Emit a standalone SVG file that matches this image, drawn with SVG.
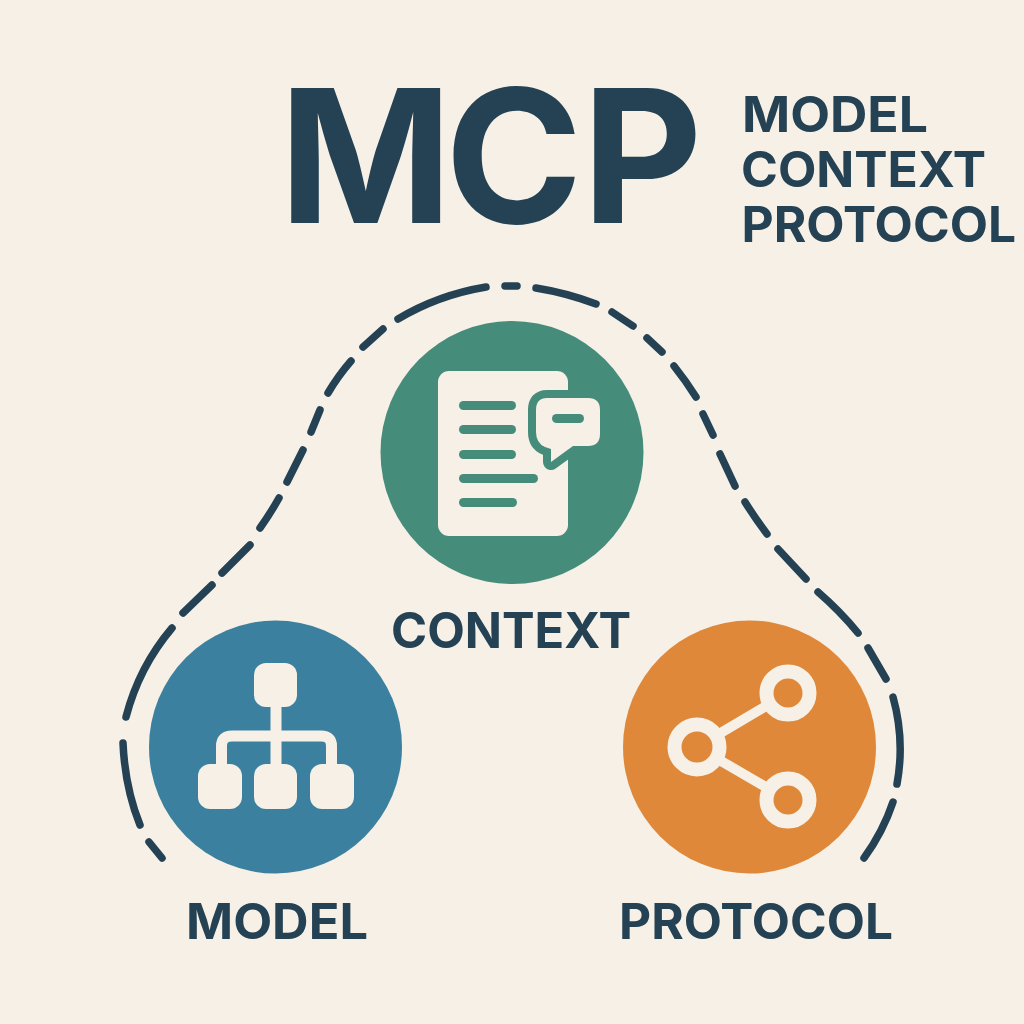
<svg xmlns="http://www.w3.org/2000/svg" width="1024" height="1024" viewBox="0 0 1024 1024">
<style>
text{font-family:Inter,"Liberation Sans",sans-serif;font-weight:700;fill:#244254}
.lbl{font-size:49px}
.cream{fill:#f6f0e6}
.dash{fill:none;stroke:#244254;stroke-width:7.500;stroke-linecap:round}
.gl{fill:#468c7b}
.ml{fill:none;stroke:#f6f0e6;stroke-width:11}
.ring{fill:#e0883a;stroke:#f6f0e6;stroke-width:14}
</style>
<rect width="1024" height="1024" fill="#f6f0e6"/>
<g id="title">
<text x="279 445 582" y="223" font-size="186">MCP</text>
<text class="lbl" x="742" y="132" textLength="186" lengthAdjust="spacingAndGlyphs">MODEL</text>
<text class="lbl" x="741" y="187" textLength="245" lengthAdjust="spacingAndGlyphs">CONTEXT</text>
<text class="lbl" x="741.500" y="242" textLength="274.500" lengthAdjust="spacingAndGlyphs">PROTOCOL</text>
</g>
<g id="connectors">
<path class="dash" d="M149,842L162,858"/>
<path class="dash" d="M123,743Q125,788 140,825"/>
<path class="dash" d="M126,717Q139,667 172,628"/>
<path class="dash" d="M183,613L212,585"/>
<path class="dash" d="M222,573L250,545"/>
<path class="dash" d="M260,528Q270,514 279,498"/>
<path class="dash" d="M287,482L303,450"/>
<path class="dash" d="M311,432L320,410"/>
<path class="dash" d="M328,393Q338,376 351,361"/>
<path class="dash" d="M363,347L383,329"/>
<path class="dash" d="M398,319Q438,295 486,287"/>
<path class="dash" d="M505,286L517,286"/>
<path class="dash" d="M536,288Q567,293 596,304"/>
<path class="dash" d="M612,312L633,326"/>
<path class="dash" d="M647,338L662,352"/>
<path class="dash" d="M674,366Q686,381 696,397"/>
<path class="dash" d="M703,414L713,435"/>
<path class="dash" d="M720,454L735,486"/>
<path class="dash" d="M745,502Q755,518 767,534"/>
<path class="dash" d="M778,549L806,579"/>
<path class="dash" d="M818,592Q840,611 858,633"/>
<path class="dash" d="M868,648L886,679"/>
<path class="dash" d="M893,697Q905,740 897,784"/>
<path class="dash" d="M893,802Q883,832 864,858"/>
</g>
<g id="context">
<circle cx="512" cy="452.500" r="131.500" fill="#468c7b"/>
<rect class="cream" x="438" y="371" width="130" height="165" rx="11"/>
<rect class="gl" x="459" y="401" width="57" height="9" rx="4.500"/>
<rect class="gl" x="459" y="425" width="57" height="9" rx="4.500"/>
<rect class="gl" x="459" y="450" width="57" height="9" rx="4.500"/>
<rect class="gl" x="459" y="474" width="79" height="9" rx="4.500"/>
<rect class="gl" x="459" y="498" width="58" height="9" rx="4.500"/>
<path class="cream" paint-order="stroke" stroke="#468c7b" stroke-width="16" stroke-linejoin="round" d="M547,398H588Q600,398 600,410V434Q600,446 588,446H573L551,462V449L545,447Q536,443 536,432V410Q536,398 547,398Z"/>
<rect class="gl" x="552" y="414" width="32" height="9" rx="4.500"/>
<text class="lbl" x="391" y="648" textLength="240" lengthAdjust="spacingAndGlyphs">CONTEXT</text>
</g>
<g id="model">
<circle cx="275.500" cy="747" r="126.500" fill="#3c80a0"/>
<path class="ml" d="M276,700V770M221.500,770V746Q221.500,736 232,736H321Q331.500,736 331.500,746V770"/>
<rect class="cream" x="254" y="663" width="43" height="44" rx="12"/>
<rect class="cream" x="198" y="764" width="44" height="45" rx="12"/>
<rect class="cream" x="254" y="764" width="43" height="45" rx="12"/>
<rect class="cream" x="310" y="764" width="44" height="45" rx="12"/>
<text class="lbl" x="186" y="939" textLength="182" lengthAdjust="spacingAndGlyphs">MODEL</text>
</g>
<g id="protocol">
<circle cx="749.500" cy="747" r="126.500" fill="#e0883a"/>
<path fill="none" stroke="#f6f0e6" stroke-width="10" d="M788,693L697,747L788,800"/>
<circle class="ring" cx="788" cy="693" r="21.500"/>
<circle class="ring" cx="697" cy="747" r="22.500"/>
<circle class="ring" cx="788" cy="800" r="21.500"/>
<text class="lbl" x="619" y="939" textLength="274" lengthAdjust="spacingAndGlyphs">PROTOCOL</text>
</g>
</svg>
